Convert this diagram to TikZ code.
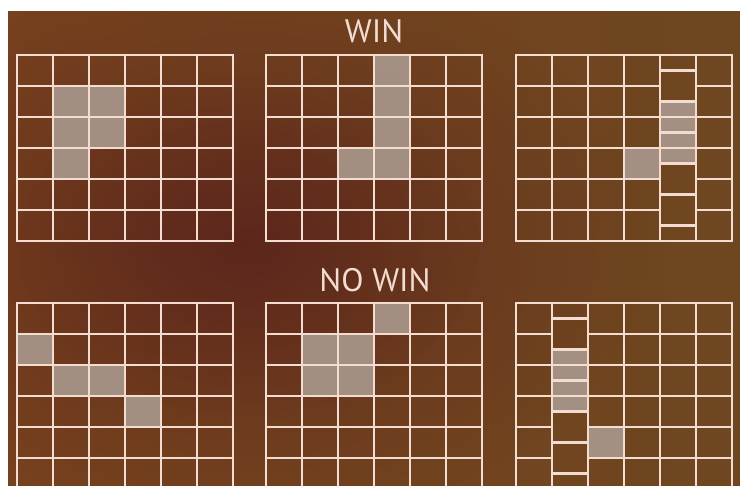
\documentclass[tikz,border=0pt]{standalone}
\usepackage{fontspec}
\newfontfamily\panelfont{PT Sans}
\usetikzlibrary{fadings}

\definecolor{bgleft}{HTML}{76411E}
\definecolor{bgright}{HTML}{6E4620}
\definecolor{bgdark}{HTML}{561E1C}
\definecolor{linecream}{HTML}{F3DCD0}
\definecolor{cellgray}{HTML}{A8978B}
\tikzfading[name=widespot, inner color=transparent!45, outer color=transparent!100]
\tikzfading[name=softspot, inner color=transparent!55, outer color=transparent!100]

\begin{document}
\begin{tikzpicture}[
    x=0.02cm, y=-0.02cm,
    % Styles
    grid_line/.style={draw=linecream, line width=1.3pt},
    lit_cell/.style={fill=cellgray, fill opacity=0.92},
    head_text/.style={text=linecream, font=\panelfont\fontsize{18.5}{20}\selectfont, inner sep=0pt}
]

    % ==========================================
    % 1. CANVAS
    % ==========================================
    \useasboundingbox (0,0) rectangle (740,486);
    \fill[white] (0,0) rectangle (740,486);
    \begin{scope}
        \clip (8,12) rectangle (740,486);
        \shade[left color=bgleft, right color=bgright] (8,12) rectangle (740,486);
        % dark patch left of centre
        \fill[bgdark, path fading=widespot] (250,245) ellipse [x radius=400, y radius=280];
        \fill[bgdark, path fading=softspot] (240,245) ellipse [x radius=240, y radius=170];
    \end{scope}

    % ==========================================
    % 2. LIT CELLS
    % ==========================================
    \begin{scope}[shift={(17,55)}]
        \foreach \c/\r in {1/1, 2/1, 1/2, 2/2, 1/3}
            \fill[lit_cell] (\c*36,\r*31) rectangle ++(36,31);
    \end{scope}
    \begin{scope}[shift={(266,55)}]
        \foreach \c/\r in {3/0, 3/1, 3/2, 3/3, 2/3}
            \fill[lit_cell] (\c*36,\r*31) rectangle ++(36,31);
    \end{scope}
    \begin{scope}[shift={(516,55)}]
        \fill[lit_cell] (3*36,3*31) rectangle ++(36,31);
    \end{scope}
    \begin{scope}[shift={(17,303)}]
        \foreach \c/\r in {0/1, 1/2, 2/2, 3/3}
            \fill[lit_cell] (\c*36,\r*31) rectangle ++(36,31);
    \end{scope}
    \begin{scope}[shift={(266,303)}]
        \foreach \c/\r in {3/0, 1/1, 2/1, 1/2, 2/2}
            \fill[lit_cell] (\c*36,\r*31) rectangle ++(36,31);
    \end{scope}
    \begin{scope}[shift={(516,303)}]
        \fill[lit_cell] (2*36,4*31) rectangle ++(36,31);
    \end{scope}

    % ==========================================
    % 3. STILL GRIDS
    % ==========================================
    \foreach \gx/\gy in {17/55, 266/55, 17/303, 266/303} {
        \begin{scope}[shift={(\gx,\gy)}]
            \draw[grid_line] (0,0) rectangle (216,186);
            \foreach \i in {1,...,5} {
                \draw[grid_line] (\i*36,0) -- (\i*36,186);
                \draw[grid_line] (0,\i*31) -- (216,\i*31);
            }
        \end{scope}
    }

    % ==========================================
    % 4. GRIDS WITH A SPINNING REEL
    % ==========================================
    \foreach \gy/\rc in {55/4, 303/1} {
        \begin{scope}[shift={(516,\gy)}]
            \fill[lit_cell] (\rc*36,1.5*31) rectangle ++(36,62);
            \draw[grid_line] (0,0) rectangle (216,186);
            \foreach \i in {1,...,5} {
                \draw[grid_line] (\i*36,0) -- (\i*36,186);
                \draw[grid_line] (0,\i*31) -- (\rc*36,\i*31);
                \draw[grid_line] (\rc*36+36,\i*31) -- (216,\i*31);
            }
            % reel rows, half a cell off
            \foreach \k in {0.5,1.5,...,5.5, 2, 3}
                \draw[grid_line] (\rc*36,\k*31) -- ++(36,0);
        \end{scope}
    }

    % ==========================================
    % 5. HEADINGS
    % ==========================================
    \node[head_text] (win) at (374,31.5) {WIN};
    \node[head_text] (nowin) at (375,280.5) {NO WIN};

\end{tikzpicture}
\end{document}
